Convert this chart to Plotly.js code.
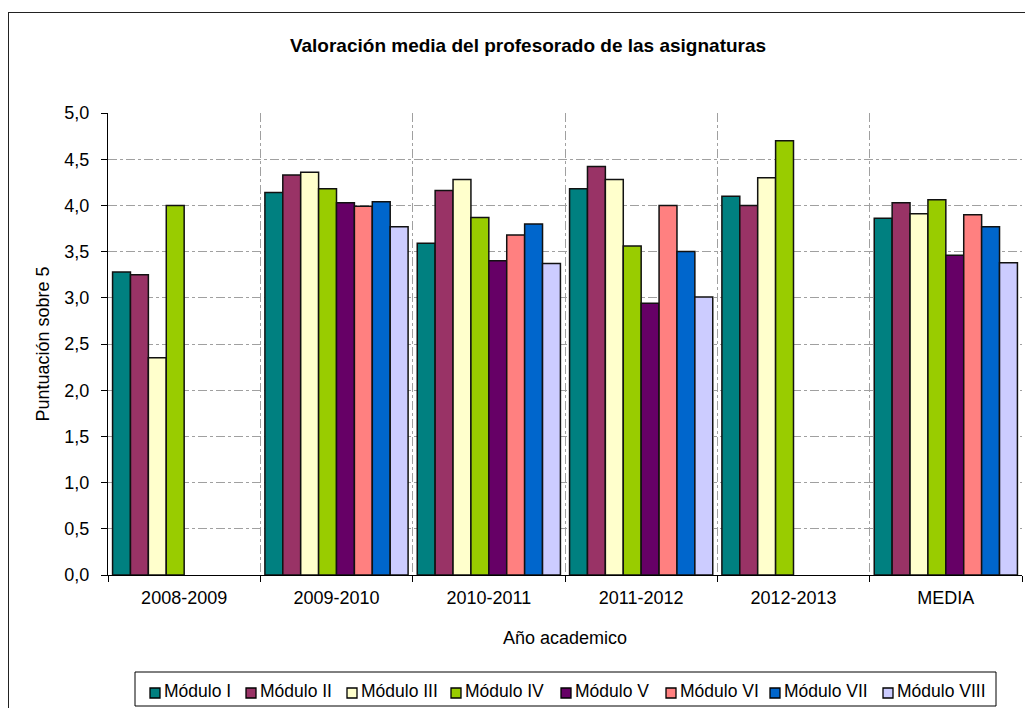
<!DOCTYPE html>
<html>
<head>
<meta charset="utf-8">
<script src="https://cdn.plot.ly/plotly-3.0.1.min.js"></script>
<style>
html,body{margin:0;padding:0;overflow:hidden;background:#fff;}
#chart{width:1025px;height:708px;position:absolute;left:0;top:0;}
#frame{position:absolute;left:8px;top:12px;width:1040px;height:720px;border:1.5px solid #222;pointer-events:none;}
</style>
</head>
<body>
<div id="chart"></div>
<div id="frame"></div>
<script>
const categories = ["2008-2009","2009-2010","2010-2011","2011-2012","2012-2013","MEDIA"];
const seriesNames = ["Módulo I","Módulo II","Módulo III","Módulo IV","Módulo V","Módulo VI","Módulo VII","Módulo VIII"];
const moduloI    = [3.28, 4.14, 3.59, 4.18, 4.10, 3.86];
const moduloII   = [3.25, 4.33, 4.16, 4.42, 4.00, 4.03];
const moduloIII  = [2.35, 4.36, 4.28, 4.28, 4.30, 3.91];
const moduloIV   = [4.00, 4.18, 3.87, 3.56, 4.70, 4.06];
const moduloV    = [null, 4.03, 3.40, 2.94, null, 3.46];
const moduloVI   = [null, 3.99, 3.68, 4.00, null, 3.90];
const moduloVII  = [null, 4.04, 3.80, 3.50, null, 3.77];
const moduloVIII = [null, 3.77, 3.37, 3.01, null, 3.38];
const seriesValues = [moduloI, moduloII, moduloIII, moduloIV, moduloV, moduloVI, moduloVII, moduloVIII];
const colors = ["#008080","#993366","#FFFFCC","#99CC00","#660066","#FF8080","#0066CC","#CCCCFF"];

const FONT = "Liberation Sans, Arial, sans-serif";
const W = 1025, H = 708;
const M = {l: 108, r: 3, t: 113, b: 133};
const PW = W - M.l - M.r, PH = H - M.t - M.b;
const px = x => (x - M.l) / PW;          // pixel x -> paper x
const py = y => (H - M.b - y) / PH;      // pixel y -> paper y

const traces = seriesNames.map((n, i) => ({
  type: "bar",
  name: n,
  x: categories,
  y: seriesValues[i],
  marker: {color: colors[i], line: {color: "#111", width: 1.5}},
  hoverinfo: "x+y+name",
  showlegend: false
}));

// custom legend (layout positions only)
const legendX = [150, 246, 347, 451, 561, 666, 770, 883];
const shapes = [{
  type: "rect", xref: "paper", yref: "paper",
  x0: px(135), x1: px(996), y0: py(706), y1: py(672),
  line: {color: "#000", width: 1}, fillcolor: "#fff", layer: "above"
}];
const annotations = [];
seriesNames.forEach((n, i) => {
  shapes.push({
    type: "rect", xref: "paper", yref: "paper",
    x0: px(legendX[i]), x1: px(legendX[i] + 10), y0: py(698), y1: py(688),
    line: {color: "#000", width: 1.3}, fillcolor: colors[i], layer: "above"
  });
  annotations.push({
    text: n, xref: "paper", yref: "paper",
    x: px(legendX[i] + 11.5), y: py(691), xanchor: "left", yanchor: "middle",
    showarrow: false, font: {family: FONT, size: 17.5, color: "#000"}
  });
});

const layout = {
  width: W, height: H,
  margin: M,
  paper_bgcolor: "#fff", plot_bgcolor: "#fff",
  separators: ",.",
  font: {family: FONT, size: 18, color: "#000"},
  title: {text: "<b>Valoración media del profesorado de las asignaturas</b>", x: 528 / W, xref: "container", y: 1 - 45 / H, yref: "container", xanchor: "center", yanchor: "middle", font: {family: FONT, size: 19, color: "#000"}},
  barmode: "group",
  bargap: 0.06,
  bargroupgap: 0,
  xaxis: {
    type: "category",
    tickson: "boundaries",
    ticks: "outside", ticklen: 6, tickcolor: "#000",
    showgrid: true, gridcolor: "#a0a0a0", griddash: "dashdot", gridwidth: 1,
    showline: true, linecolor: "#000", linewidth: 1,
    tickfont: {family: FONT, size: 18},
    ticklabelstandoff: 6,
    title: {text: "Año academico", font: {family: FONT, size: 18}, standoff: 24}
  },
  yaxis: {
    range: [0, 5], dtick: 0.5, tick0: 0, tickformat: ".1f",
    ticks: "outside", ticklen: 6, tickcolor: "#000",
    showgrid: true, gridcolor: "#a0a0a0", griddash: "dashdot", gridwidth: 1,
    zeroline: false,
    showline: true, linecolor: "#000", linewidth: 1,
    tickfont: {family: FONT, size: 18},
    ticklabelstandoff: 8,
    title: {text: "Puntuación sobre 5", font: {family: FONT, size: 18}, standoff: 10}
  },
  shapes: shapes,
  annotations: annotations,
  showlegend: false
};

Plotly.newPlot("chart", traces, layout, {displayModeBar: false, staticPlot: true});
</script>
</body>
</html>
